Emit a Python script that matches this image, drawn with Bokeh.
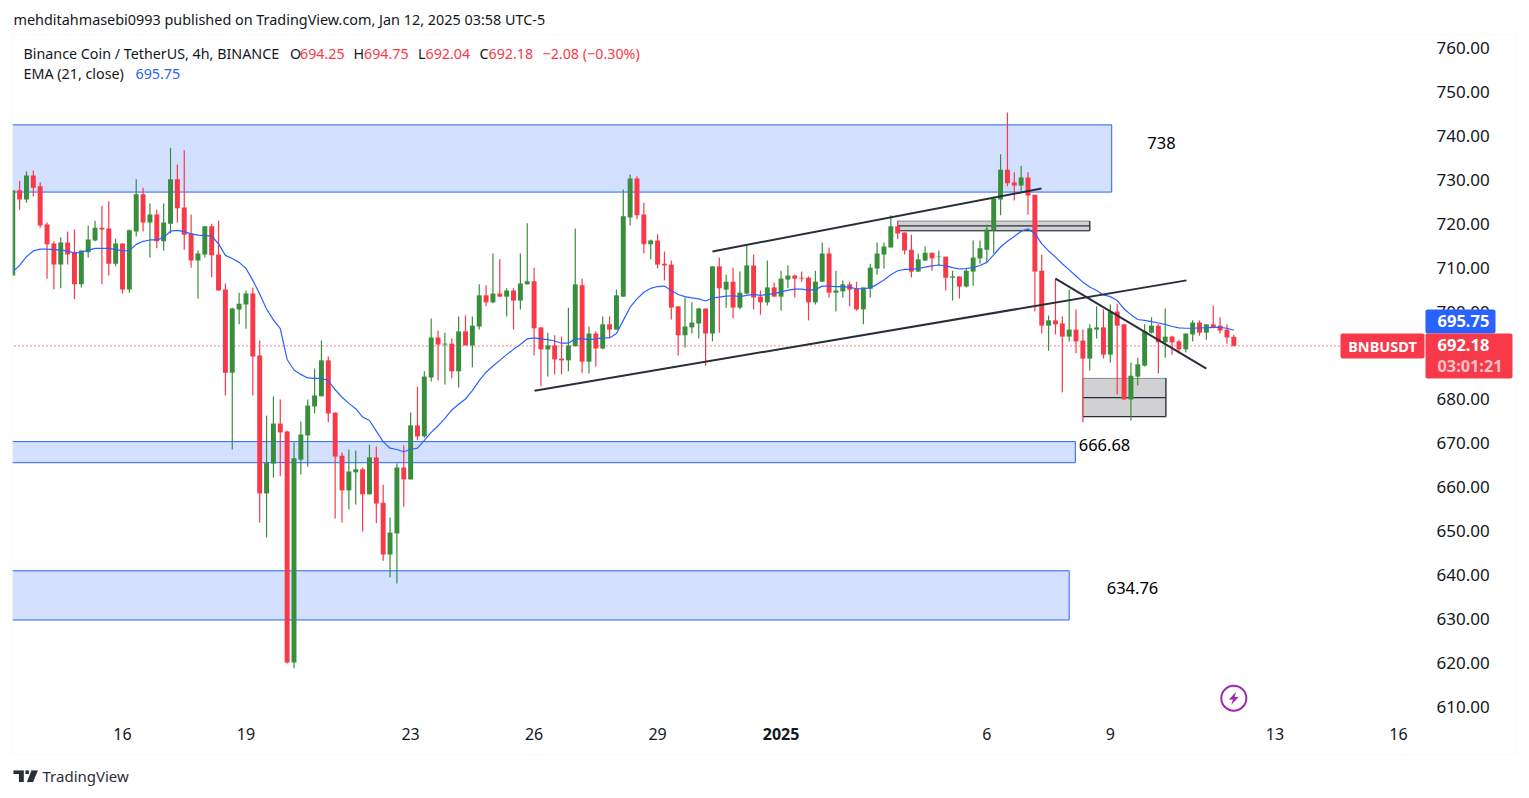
from bokeh.plotting import figure
from bokeh.embed import file_html
from bokeh.resources import INLINE
from bokeh.models import (Range1d, FixedTicker, PrintfTickFormatter, Label, BoxAnnotation,
                          PolyAnnotation, ColumnDataSource)

first_bar = -16
bar_ohlc = [
(708.2,727.6,708.2,727.6),(727.6,729.8,723.2,725.5),(725.5,731.9,724.8,731.0),(731.0,732.1,726.2,728.2),
(728.5,729.4,719.1,719.6),(719.8,720.3,707.5,715.3),(715.5,716.0,705.0,710.7),(710.7,716.9,705.3,715.7),
(715.7,718.2,710.7,713.0),(713.5,718.7,702.8,706.2),(706.2,713.9,705.5,713.9),(713.5,719.6,712.3,716.4),
(716.2,720.7,716.0,719.1),(719.1,724.1,706.2,718.7),(718.9,725.1,708.2,710.9),(710.9,716.6,710.3,715.5),
(715.5,715.5,704.1,705.0),(705.0,718.7,704.3,718.5),(718.2,730.1,717.1,726.7),(726.7,728.2,718.2,720.3),
(720.3,724.6,712.3,722.1),(722.1,723.2,714.4,716.0),(716.0,724.6,713.9,720.3),(720.0,737.3,717.8,730.1),
(730.1,733.5,720.3,723.5),(723.7,736.7,714.1,717.5),(717.8,722.1,710.0,711.6),(711.6,713.9,703.0,713.2),
(713.0,719.4,712.3,719.4),(719.4,720.0,707.8,712.8),(713.0,720.7,704.8,704.8),(705.0,706.4,680.9,686.1),
(686.1,700.9,668.6,700.7),(700.5,704.3,697.1,701.8),(701.6,704.8,696.1,704.1),(704.1,705.5,680.9,689.8),
(690.0,693.4,652.0,658.6),(658.6,676.3,648.6,665.6),(665.4,680.7,662.2,674.5),(674.5,680.0,662.5,672.5),
(672.7,672.9,619.9,620.1),(620.1,670.2,618.8,666.6),(666.3,675.0,662.9,672.0),(671.8,680.0,664.7,678.6),
(678.4,687.0,676.8,680.9),(680.7,693.4,680.7,688.9),(688.9,689.8,674.8,676.8),(677.0,677.0,652.9,667.0),
(667.2,667.9,652.0,659.3),(659.3,668.6,655.0,663.6),(663.4,668.4,656.1,664.1),(664.1,664.5,649.9,658.4),
(658.4,669.7,658.4,666.8),(666.8,669.3,651.8,656.3),(656.5,660.6,643.3,644.7),(644.7,653.1,639.5,649.7),
(649.5,665.4,638.1,664.5),(664.5,669.5,655.6,661.8),(661.8,677.0,661.8,674.1),(674.1,682.9,670.7,671.6),
(671.6,686.4,671.3,685.2),(685.0,698.4,684.1,694.1),(694.1,695.7,684.3,692.5),(692.5,695.2,683.4,692.7),
(692.7,693.9,684.8,686.4),(686.4,698.9,682.7,695.5),(695.5,699.1,692.3,692.3),(692.3,698.9,687.3,696.8),
(696.6,706.2,695.9,703.7),(703.7,706.0,701.2,702.1),(702.1,713.2,701.9,704.1),(704.1,711.9,703.4,703.4),
(703.4,705.3,698.9,704.8),(704.8,705.3,695.9,702.5),(702.5,713.2,700.5,706.4),(706.2,720.1,706.2,706.9),
(706.9,710.0,690.0,696.2),(696.4,696.4,683.0,691.4),(691.4,695.2,685.2,692.3),(692.3,694.6,685.7,689.1),
(689.3,694.3,685.7,688.9),(688.9,700.9,686.4,692.3),(692.1,718.9,692.1,706.2),(706.0,707.5,686.1,688.6),
(688.6,696.6,685.9,695.0),(695.0,695.5,687.5,691.6),(691.6,698.9,691.4,697.1),(697.1,698.9,694.1,695.9),
(695.9,705.0,695.9,703.7),(703.4,727.8,703.4,721.7),(721.4,731.2,719.6,730.3),(730.3,730.8,721.0,721.9),
(722.1,724.8,713.2,715.3),(715.3,716.4,711.9,716.2),(716.2,717.6,709.8,710.7),(710.9,713.7,707.1,710.5),
(710.7,711.6,698.2,700.9),(701.2,701.2,690.0,694.6),(694.6,703.2,691.8,696.6),(696.4,702.1,695.0,697.5),
(697.3,700.9,693.9,700.7),(700.7,700.7,687.7,695.0),(695.0,710.3,693.2,710.3),(710.3,712.3,695.2,705.3),
(705.0,708.4,700.9,706.8),(706.8,710.0,698.4,700.9),(700.9,709.1,700.5,704.3),(704.1,715.0,703.9,710.5),
(710.5,713.0,700.5,703.2),(703.4,704.8,699.3,702.1),(702.1,711.6,701.4,705.5),(705.5,706.6,703.4,703.4),
(703.4,709.3,700.2,707.5),(707.3,710.5,705.3,708.2),(708.2,708.4,703.2,707.5),(707.7,709.1,706.8,707.5),
(707.7,708.0,698.0,702.1),(702.1,709.3,701.6,706.8),(706.8,715.7,706.8,713.2),(713.2,714.6,703.2,704.3),
(704.3,709.3,700.0,704.8),(704.6,707.1,703.2,706.2),(706.2,706.8,701.2,705.0),(705.2,706.8,700.2,700.5),
(700.5,705.5,697.1,705.5),(705.2,710.9,703.2,710.0),(709.8,715.7,708.4,713.2),(713.0,715.7,709.8,714.8),
(714.6,721.9,714.6,719.4),(719.4,720.7,716.6,717.8),(718.0,718.0,713.0,713.9),(714.1,717.5,707.8,709.1),
(709.1,713.2,709.1,711.9),(711.6,714.8,711.6,713.4),(713.4,713.4,709.3,712.1),(712.4,713.9,710.5,712.5),
(712.5,712.5,704.8,707.7),(707.7,709.3,702.5,708.0),(708.0,708.0,703.0,705.7),(705.7,710.0,705.5,709.3),
(709.1,716.2,705.9,712.3),(712.1,716.2,710.9,714.4),(714.1,719.8,711.2,718.7),(718.5,726.2,713.2,725.7),
(725.5,735.8,721.9,732.3),(732.3,745.3,728.5,729.2),(729.4,731.7,725.3,728.7),(728.7,733.2,727.1,730.5),
(730.5,731.7,722.1,726.4),(726.6,726.6,700.0,709.1),(709.3,713.0,695.0,696.8),(696.8,699.1,691.1,698.0),
(698.0,707.5,694.8,697.1),(697.3,698.9,681.6,694.3),(694.3,705.0,693.2,695.9),(695.9,700.5,690.5,693.2),
(693.4,695.9,674.8,689.3),(689.3,697.1,686.6,696.2),(695.9,701.2,693.9,696.4),(696.4,700.5,689.3,690.2),
(690.2,701.6,688.4,700.0),(700.0,701.8,681.1,696.8),(697.1,697.1,680.0,680.0),(680.0,688.4,675.2,685.4),
(685.2,689.5,683.2,688.0),(687.7,697.1,687.5,695.5),(695.2,698.7,695.0,696.8),(696.8,697.1,685.9,693.0),
(693.0,700.7,689.5,694.3),(694.3,694.5,690.2,693.0),(693.2,693.6,690.5,691.4),(691.4,695.0,690.7,695.0),
(694.8,698.0,693.2,697.5),(697.5,698.0,694.5,695.2),(695.2,697.1,693.6,697.1),(697.1,701.4,696.2,696.4),
(696.8,698.7,695.0,695.7),(695.9,697.1,692.7,694.1),(694.25,694.75,692.04,692.18),
]

ema_values = [
709.1,710.5,712.5,713.8,714.2,714.2,714.1,714.0,713.8,713.3,713.5,714.0,714.4,714.4,714.4,714.1,
713.8,713.9,715.3,716.0,716.3,716.3,716.9,718.3,718.5,718.2,717.7,717.4,717.3,717.2,715.4,
712.8,712.1,711.2,709.8,707.1,704.0,700.6,698.1,696.1,689.1,686.7,685.7,684.9,684.8,684.8,684.3,
682.2,680.5,679.1,677.9,676.0,675.2,672.8,670.4,668.9,668.6,668.1,668.6,668.9,670.7,672.5,
674.0,675.7,677.6,678.9,680.1,682.0,684.3,686.2,687.6,688.9,690.2,691.4,692.5,693.8,694.0,693.8,
693.6,693.3,692.8,692.8,693.8,693.8,693.6,693.8,694.0,694.0,695.0,698.0,701.0,702.9,704.4,705.3,
705.7,705.8,704.8,703.9,703.4,703.1,702.9,702.4,703.1,703.3,703.5,703.6,703.4,703.7,703.9,703.7,
703.9,704.1,704.5,704.9,705.1,705.1,704.9,705.0,705.8,705.8,705.7,705.7,705.5,705.2,705.2,705.4,
706.2,707.2,708.4,709.3,709.6,709.6,709.8,710.1,710.4,710.6,710.4,710.0,709.7,709.8,710.0,710.5,
711.2,712.9,714.7,716.0,717.1,718.3,718.8,717.8,715.4,713.8,712.4,710.9,709.5,708.1,706.7,705.6,
704.8,703.8,703.4,702.5,700.6,699.3,698.2,698.0,697.7,697.4,697.1,696.6,696.3,696.2,696.2,696.3,
696.3,696.4,696.4,696.2,695.75,
]

price_ticks = [610, 620, 630, 640, 650, 660, 670, 680, 690, 700, 710, 720, 730, 740, 750, 760]
time_ticks = [0, 18, 42, 60, 78, 126, 144, 168, 186]
time_labels = ["16", "19", "23", "26", "29", "6", "9", "13", "16"]
year_tick = 96
year_label = "2025"

last_close = 692.18
last_ema = 695.75

# price zones: right bar index, top price, bottom price
zone_right = [144.2, 138.9, 138.0]
zone_top = [742.5, 670.4, 641.0]
zone_bottom = [727.2, 665.6, 629.8]

# trend lines: (bar, price) -> (bar, price)
trend_x0 = [60.06, 86.0, 136.0]
trend_y0 = [682.0, 713.7, 707.5]
trend_x1 = [155.1, 133.96, 158.0]
trend_y1 = [707.1, 728.0, 687.0]

# grey boxes: left bar, right bar, top, middle, bottom
box_left = [113.0, 140.0]
box_right = [141.0, 152.1]
box_top = [720.6, 684.8]
box_mid = [719.5, 680.4]
box_bot = [718.4, 676.1]

notes = [("738", 1161, 143), ("666.68", 1104, 445), ("634.76", 1132, 588)]

FONT = "Noto Sans"
INK = "#131722"
RED = "#F7394A"
GREEN = "#388E3C"
BLUE = "#2962FF"
DARK = "#2A2E39"
FRAME = "#F0F3FA"

pane_left = -17.5        # zones and the price line run under the mask left of the pane
pane_right = 189.8       # bar position of the price scale
pane_bottom = 606.9      # price at the time scale
dotted_end = 177.55

p = figure(width=1518, height=792, output_backend="svg", toolbar_location=None,
           x_range=Range1d(-17.784, 203.499), y_range=Range1d(590.53, 770.81),
           y_axis_location="right", min_border_left=0, min_border_right=0,
           min_border_top=0, min_border_bottom=0, background_fill_color="white",
           border_fill_color="white", outline_line_color=None)
p.grid.visible = False

p.yaxis.fixed_location = pane_right
p.yaxis.ticker = FixedTicker(ticks=price_ticks)
p.yaxis.formatter = PrintfTickFormatter(format="%.2f")
p.yaxis.axis_line_color = None
p.yaxis.major_tick_line_color = None
p.yaxis.minor_tick_line_color = None
p.yaxis.major_label_standoff = 6
p.yaxis.major_label_text_font = FONT
p.yaxis.major_label_text_font_size = "17px"
p.yaxis.major_label_text_color = INK

p.xaxis.fixed_location = pane_bottom
p.xaxis.ticker = FixedTicker(ticks=time_ticks)
p.xaxis.major_label_overrides = {t: s for t, s in zip(time_ticks, time_labels)}
p.xaxis.axis_line_color = None
p.xaxis.major_tick_line_color = None
p.xaxis.minor_tick_line_color = None
p.xaxis.major_label_standoff = 1
p.xaxis.major_label_text_font = FONT
p.xaxis.major_label_text_font_size = "16px"
p.xaxis.major_label_text_color = INK

# zones
n = len(zone_right)
p.quad(left=[pane_left] * n, right=zone_right, top=zone_top, bottom=zone_bottom,
       fill_color=BLUE, fill_alpha=0.2, line_color=BLUE, line_width=1)

# dotted last price line
p.line([pane_left, dotted_end], [last_close, last_close], line_color=RED, line_width=1.2, line_dash="1 3")

# grey boxes
p.quad(left=box_left, right=box_right, top=box_top, bottom=box_bot,
       fill_color="#D1D1D4", fill_alpha=1, line_color="#888B93", line_width=1)
p.segment(box_left, box_mid, box_right, box_mid, line_color=DARK, line_width=1.2)
p.segment(box_left, box_bot, box_right, box_bot, line_color=DARK, line_width=1.2)
p.segment(box_right, box_top, box_right, box_bot, line_color=DARK, line_width=1.2)

# candles
idx = [first_bar + k for k in range(len(bar_ohlc))]
opens = [b[0] for b in bar_ohlc]
highs = [b[1] for b in bar_ohlc]
lows = [b[2] for b in bar_ohlc]
closes = [b[3] for b in bar_ohlc]
cols = [GREEN if c >= o else RED for o, c in zip(opens, closes)]
src = ColumnDataSource(dict(x=idx, o=opens, h=highs, l=lows, c=closes, col=cols,
                            top=[max(o, c) for o, c in zip(opens, closes)],
                            bot=[min(o, c) for o, c in zip(opens, closes)]))
p.segment("x", "h", "x", "l", source=src, line_color="col", line_width=1.2)
p.vbar(x="x", top="top", bottom="bot", width=0.72, source=src, fill_color="col", line_color=None)

# EMA
p.line(idx[:len(ema_values)], ema_values, line_color=BLUE, line_width=1.2)

# trend lines
p.segment(trend_x0, trend_y0, trend_x1, trend_y1, line_color=DARK, line_width=2)

# lightning badge
p.scatter([162], [612.0], size=25, marker="circle", fill_color="white", line_color="#9C27B0", line_width=2)

LEVEL = "overlay"


def lab(text, x, y, size=14.3, color=INK, align="left", bold=False, x_units="canvas"):
    p.add_layout(Label(text=text, x=x, y=y - 1, x_units=x_units, y_units="canvas",
                       text_font=FONT, text_font_size=f"{size}px", text_color=color,
                       text_align=align, text_baseline="middle",
                       text_font_style="bold" if bold else "normal", level=LEVEL))


def box(l, r, t, b, color, radius=2):
    p.add_layout(BoxAnnotation(left=l, right=r, top=t, bottom=b,
                               left_units="canvas", right_units="canvas", top_units="canvas",
                               bottom_units="canvas", fill_color=color, fill_alpha=1,
                               line_color=None, level=LEVEL, border_radius=radius))


def poly(xs, ys, color):
    p.add_layout(PolyAnnotation(xs=xs, ys=ys, xs_units="canvas",
                                ys_units="canvas", fill_color=color, fill_alpha=1, line_color=color,
                                line_width=0.5, level=LEVEL))


# mask left of the pane, pane frame
box(0, 12, 30, 760, "white", 0)
p.add_layout(BoxAnnotation(left=12, right=1516, top=34, bottom=754,
                           left_units="canvas", right_units="canvas", top_units="canvas",
                           bottom_units="canvas", fill_alpha=0, line_color=FRAME, line_width=2,
                           level=LEVEL))

# header
lab("mehditahmasebi0993 published on TradingView.com, Jan 12, 2025 03:58 UTC-5", 13, 19.5, 14.4)
lab("Binance Coin / TetherUS, 4h, BINANCE", 23, 54)
for s, x, c in [("O", 289.5, INK), ("694.25", 299.5, RED), ("H", 353, INK), ("694.75", 363.5, RED),
                ("L", 417.5, INK), ("692.04", 425, RED), ("C", 479, INK), ("692.18", 488, RED),
                ("\u22122.08 (\u22120.30%)", 542, RED)]:
    lab(s, x, 54, color=c)
lab("EMA (21, close)", 23, 74)
lab("695.75", 135, 74, color=BLUE)

# chart notes
for s, x, y in notes:
    lab(s, x, y, 16.5, "#000000", align="center")

# bold year tick
lab(year_label, year_tick, 734, 16, INK, align="center", bold=True, x_units="data")

# price badges
box(1425, 1495, 309, 333, BLUE)
box(1425, 1512, 333, 378, RED)
box(1340, 1424, 333, 358, RED)
lab("BNBUSDT", 1382, 346, 14.5, "white", align="center", bold=True)
lab("695.75", 1437, 321, 16.5, "white", bold=True)
lab("692.18", 1437, 345, 16.5, "white", bold=True)
lab("03:01:21", 1437, 366, 16.3, "#FDC3C9", bold=True)

# lightning bolt
poly([1235.5, 1228.5, 1232.5, 1231, 1238, 1234, 1235.5],
     [691.5, 699, 699, 704, 696.5, 696.5, 691.5], "#9C27B0")

# logo
poly([13, 23.3, 23.3, 18.5, 18.5, 13], [770, 770, 781.5, 781.5, 773.6, 773.6], DARK)
poly([31, 37.3, 32.5, 26.5], [770, 770, 781.5, 781.5], DARK)
poly([25, 28.4, 28.4, 25], [770, 770, 773.4, 773.4], DARK)
lab("TradingView", 42, 776, 15, "#2A2E39")

open("out.html", "w").write(file_html(p, INLINE))
